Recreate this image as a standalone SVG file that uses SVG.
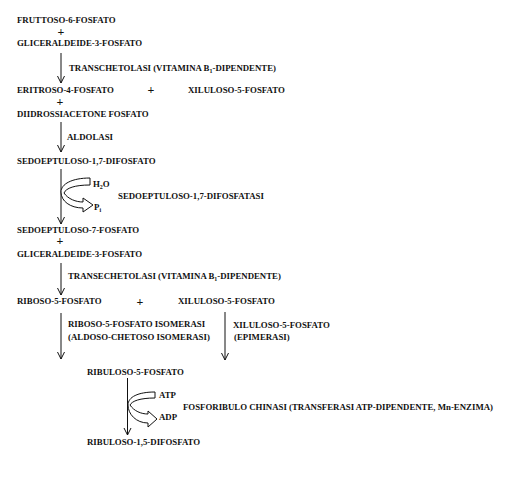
<svg xmlns="http://www.w3.org/2000/svg" width="518" height="480" viewBox="0 0 518 480">
<defs>
<style>
text{font-family:"Liberation Serif","Times New Roman",serif;font-weight:bold;font-size:8.8px;fill:#111}
.sub{font-size:6px}
.plus{font-size:12px;text-anchor:middle}
.ln{stroke:#111;stroke-width:1;fill:none}
.band{stroke:#111;stroke-width:1;fill:#fff;stroke-linejoin:miter}
</style>
<marker id="ah" markerWidth="10" markerHeight="10" refX="8" refY="5" orient="auto" markerUnits="userSpaceOnUse">
<path d="M1,1.5 L8,5 L1,8.5" fill="none" stroke="#111" stroke-width="1"/>
</marker>
</defs>
<rect width="518" height="480" fill="#fff"/>
<g id="connectors">
<line class="ln" x1="61" y1="53" x2="61" y2="83" marker-end="url(#ah)"/>
<line class="ln" x1="61" y1="122" x2="61" y2="152" marker-end="url(#ah)"/>
<line class="ln" x1="61" y1="169" x2="61" y2="224" marker-end="url(#ah)"/>
<line class="ln" x1="61" y1="263" x2="61" y2="295" marker-end="url(#ah)"/>
<line class="ln" x1="61" y1="313" x2="61" y2="359" marker-end="url(#ah)"/>
<line class="ln" x1="225" y1="312" x2="225" y2="360" marker-end="url(#ah)"/>
<line class="ln" x1="127.5" y1="378" x2="127.5" y2="435" marker-end="url(#ah)"/>
<path id="band1" class="band" d="M90,178 L90,185 C75,185 66,188 64,193 C68,199 76,202 83,202 L83,198 L93,205 L83,212 L83,208 C70,208 61,201 61,192 C61,184 72,178 90,178 Z"/>
<path id="band2" class="band" d="M155,392 L155,398 C140,398 132,401 130,405 C134,411 141,414 148,414 L148,411 L157,419 L148,427 L148,423 C136,423 128,414 128,405 C128,397 138,392 155,392 Z"/>
</g>
<g id="n1"><text x="17" y="23">FRUTTOSO-6-FOSFATO</text></g>
<g id="p1"><text class="plus" x="61" y="35.5">+</text></g>
<g id="n2"><text x="17" y="46">GLICERALDEIDE-3-FOSFATO</text></g>
<g id="e1"><text x="69" y="71">TRANSCHETOLASI (VITAMINA B<tspan class="sub" dy="2">1</tspan><tspan dy="-2">-DIPENDENTE)</tspan></text></g>
<g id="n3"><text x="17" y="93">ERITROSO-4-FOSFATO</text></g>
<g id="p2"><text class="plus" x="151" y="94">+</text></g>
<g id="n4"><text x="188" y="93">XILULOSO-5-FOSFATO</text></g>
<g id="p3"><text class="plus" x="60" y="106">+</text></g>
<g id="n5"><text x="17" y="117">DIIDROSSIACETONE FOSFATO</text></g>
<g id="e2"><text x="67" y="140">ALDOLASI</text></g>
<g id="n6"><text x="17" y="164">SEDOEPTULOSO-1,7-DIFOSFATO</text></g>
<g id="h2o"><text x="93" y="187">H<tspan class="sub" dy="2">2</tspan><tspan dy="-2">O</tspan></text></g>
<g id="e3"><text x="118" y="199">SEDOEPTULOSO-1,7-DIFOSFATASI</text></g>
<g id="pi"><text x="94" y="210">P<tspan class="sub" dy="2">i</tspan></text></g>
<g id="n7"><text x="17" y="233">SEDOEPTULOSO-7-FOSFATO</text></g>
<g id="p4"><text class="plus" x="60" y="245">+</text></g>
<g id="n8"><text x="17" y="257">GLICERALDEIDE-3-FOSFATO</text></g>
<g id="e4"><text x="68" y="279">TRANSECHETOLASI (VITAMINA B<tspan class="sub" dy="2">1</tspan><tspan dy="-2">-DIPENDENTE)</tspan></text></g>
<g id="n9"><text x="17" y="304">RIBOSO-5-FOSFATO</text></g>
<g id="p5"><text class="plus" x="140" y="305.5">+</text></g>
<g id="n10"><text x="178" y="304">XILULOSO-5-FOSFATO</text></g>
<g id="e5"><text x="68" y="327">RIBOSO-5-FOSFATO ISOMERASI</text><text x="68" y="340">(ALDOSO-CHETOSO ISOMERASI)</text></g>
<g id="e6"><text x="233" y="328">XILULOSO-5-FOSFATO</text><text x="234" y="340">(EPIMERASI)</text></g>
<g id="n11"><text x="87" y="375">RIBULOSO-5-FOSFATO</text></g>
<g id="atp"><text x="159" y="398">ATP</text></g>
<g id="e7"><text x="183" y="410">FOSFORIBULO CHINASI (TRANSFERASI ATP-DIPENDENTE, Mn-ENZIMA)</text></g>
<g id="adp"><text x="159" y="420">ADP</text></g>
<g id="n12"><text x="87" y="445">RIBULOSO-1,5-DIFOSFATO</text></g>
</svg>
